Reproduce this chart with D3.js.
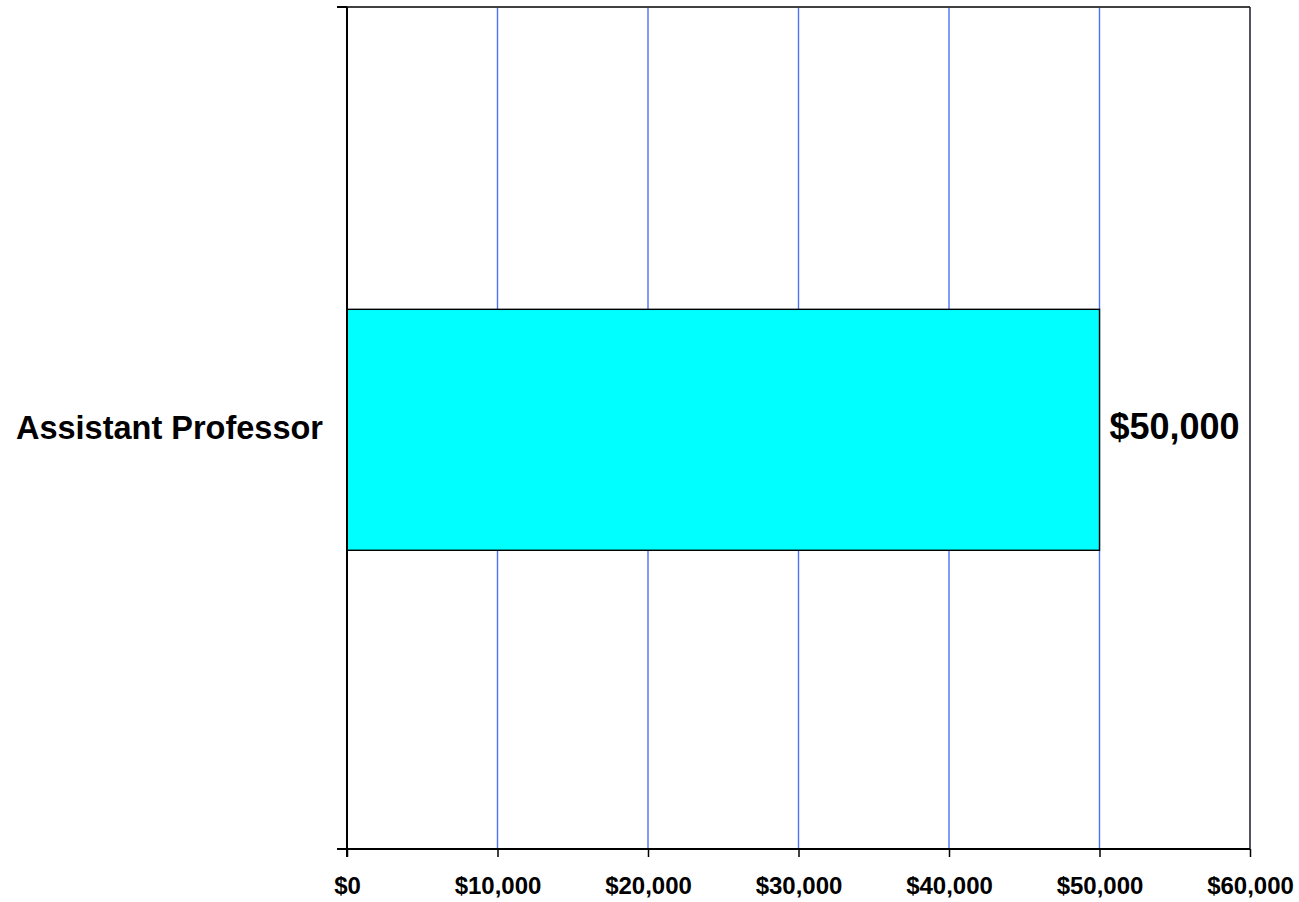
<!DOCTYPE html>
<html>
<head>
<meta charset="utf-8">
<script src="https://cdn.jsdelivr.net/npm/d3@7"></script>
<style>
  html, body { margin: 0; padding: 0; background: #fff; }
  svg { display: block; }
  text { font-family: "Liberation Sans", Arial, sans-serif; font-weight: bold; fill: #000; }
</style>
</head>
<body>
<svg id="chart" width="1299" height="902"></svg>
<script>
const categories = ["Assistant Professor"];
const salaries = [50000];
const xTickValues = [0, 10000, 20000, 30000, 40000, 50000, 60000];
const xTickLabels = ["$0", "$10,000", "$20,000", "$30,000", "$40,000", "$50,000", "$60,000"];
const valueLabels = ["$50,000"];

(function () {
const svg = d3.select("#chart");
const mLeft = 347, mRight = 1250, mTop = 7, mBottom = 849;

const x = d3.scaleLinear().domain([0, 60000]).range([mLeft, mRight]);
const y = d3.scaleBand().domain(categories).range([mTop, mBottom])
  .paddingInner(0.555).paddingOuter(0.555).align(0.503);

// gridlines
svg.append("g").selectAll("line").data(xTickValues.slice(1, -1)).join("line")
  .attr("x1", d => x(d)).attr("x2", d => x(d))
  .attr("y1", mTop).attr("y2", mBottom)
  .attr("stroke", "#4a72f5").attr("stroke-width", 1.4);

// bars
svg.append("g").selectAll("rect").data(categories).join("rect")
  .attr("x", x(0))
  .attr("y", d => y(d))
  .attr("width", (d, i) => x(salaries[i]) - x(0))
  .attr("height", y.bandwidth())
  .attr("fill", "#00ffff")
  .attr("stroke", "#000").attr("stroke-width", 1.4);

// top and right border
svg.append("line").attr("x1", mLeft - 10).attr("x2", mRight).attr("y1", mTop).attr("y2", mTop)
  .attr("stroke", "#404040").attr("stroke-width", 2);
svg.append("line").attr("x1", mRight).attr("x2", mRight).attr("y1", mTop).attr("y2", mBottom)
  .attr("stroke", "#1a1a2e").attr("stroke-width", 1.5);

// x axis
const xAxis = d3.axisBottom(x).tickValues(xTickValues)
  .tickFormat((d, i) => xTickLabels[i]).tickSize(8).tickSizeOuter(0).tickPadding(20);
const gx = svg.append("g").attr("transform", `translate(0,${mBottom})`).call(xAxis);
gx.select(".domain").attr("stroke", "#000").attr("stroke-width", 2)
  .attr("d", `M${mLeft - 10},0H${mRight}`);
gx.selectAll(".tick line").attr("stroke", "#000").attr("stroke-width", 1.5);
gx.selectAll(".tick text").style("font-size", "24px").style("font-weight", "bold")
  .style("font-family", "'Liberation Sans', Arial, sans-serif").attr("fill", "#000");

// y axis
svg.append("line").attr("x1", mLeft).attr("x2", mLeft).attr("y1", mTop).attr("y2", mBottom + 8)
  .attr("stroke", "#000").attr("stroke-width", 2);
svg.append("line").attr("x1", mLeft - 10).attr("x2", mLeft).attr("y1", mTop).attr("y2", mTop)
  .attr("stroke", "#000").attr("stroke-width", 2);

// category labels
svg.append("g").selectAll("text").data(categories).join("text")
  .attr("x", mLeft - 24)
  .attr("y", d => y(d) + y.bandwidth() / 2)
  .attr("dy", "0.29em")
  .attr("text-anchor", "end")
  .style("font-size", "32.5px")
  .text(d => d);

// value labels
svg.append("g").selectAll("text").data(categories).join("text")
  .attr("x", (d, i) => x(salaries[i]) + 10)
  .attr("y", d => y(d) + y.bandwidth() / 2)
  .attr("dy", "0.25em")
  .attr("text-anchor", "start")
  .style("font-size", "36px")
  .text((d, i) => valueLabels[i]);
})();
</script>
</body>
</html>
